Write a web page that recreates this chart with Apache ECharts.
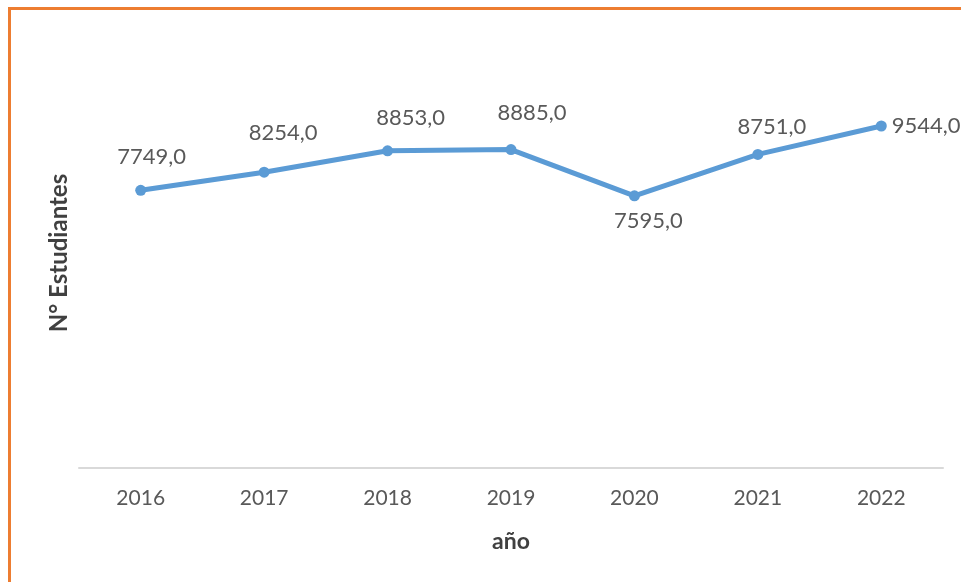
<!DOCTYPE html>
<html>
<head>
<meta charset="utf-8">
<script src="https://cdn.jsdelivr.net/npm/echarts@6/dist/echarts.min.js"></script>
<style>
  html, body { margin: 0; padding: 0; background: #fff; }
  #chart { width: 961px; height: 582px; position: relative; }
  #frame {
    position: absolute; left: 8px; top: 7px; width: 960px; height: 580px;
    border-left: 3px solid #ED7D31; border-top: 3px solid #ED7D31;
    pointer-events: none;
  }
</style>
</head>
<body>
<div id="chart"></div>
<div id="frame"></div>
<script>
// Estudiantes matriculados por año
const years = ['2016', '2017', '2018', '2019', '2020', '2021', '2022'];
const students = [7749, 8254, 8853, 8885, 7595, 8751, 9544];

const fmt = v => v.toFixed(1).replace('.', ',');

// Label placement per point (2020 sits below, 2022 to the right)
const labelTweaks = [
  { position: 'top', offset: [11, -12] },
  { position: 'top', offset: [19, -18] },
  { position: 'top', offset: [23, -11] },
  { position: 'top', offset: [21, -15] },
  { position: 'bottom', offset: [14, 4] },
  { position: 'top', offset: [14, -6] },
  { position: 'right', offset: [0, 0] }
];

const seriesData = students.map((v, i) => ({
  value: v,
  label: labelTweaks[i]
}));

const chart = echarts.init(document.getElementById('chart'));
chart.setOption({
  animation: false,
  textStyle: { fontFamily: 'Lato' },
  grid: { left: 79, right: 18, top: 38, bottom: 114, containLabel: false },
  xAxis: {
    type: 'category',
    data: years,
    boundaryGap: true,
    name: 'año',
    nameLocation: 'middle',
    nameGap: 62,
    nameTextStyle: { fontFamily: 'Lato', fontSize: 23, fontWeight: 'bold', color: '#404040' },
    axisLine: { lineStyle: { color: '#D9D9D9', width: 2 } },
    axisTick: { show: false },
    axisLabel: { fontFamily: 'Lato', fontSize: 21, color: '#595959', margin: 20 }
  },
  yAxis: {
    type: 'value',
    min: 0,
    max: 12000,
    name: 'N° Estudiantes',
    nameLocation: 'middle',
    nameGap: 8,
    nameTextStyle: { fontFamily: 'Lato', fontSize: 24, fontWeight: 'bold', color: '#404040' },
    axisLine: { show: false },
    axisTick: { show: false },
    axisLabel: { show: false },
    splitLine: { show: false }
  },
  series: [{
    type: 'line',
    data: seriesData,
    symbol: 'circle',
    symbolSize: 11,
    lineStyle: { color: '#5B9BD5', width: 5 },
    itemStyle: { color: '#5B9BD5' },
    label: {
      show: true,
      fontFamily: 'Lato',
      fontSize: 22,
      color: '#595959',
      formatter: p => fmt(p.value)
    }
  }]
});
</script>
</body>
</html>
